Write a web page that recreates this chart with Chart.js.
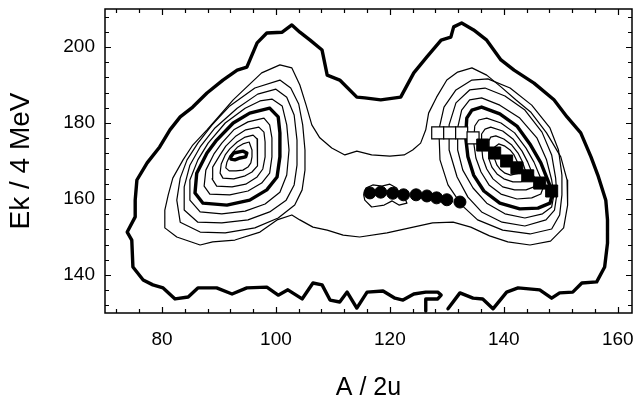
<!DOCTYPE html>
<html><head><meta charset="utf-8">
<script src="https://cdn.jsdelivr.net/npm/chart.js@4.4.1/dist/chart.umd.min.js"></script>
<style>html,body{margin:0;padding:0;background:#fff;}canvas{display:block;}</style>
</head><body>
<canvas id="c" width="634" height="403"></canvas>
<script>
// ---- axis tick labels ----
const xLabelTicks = [80, 100, 120, 140, 160];
const yLabelTicks = [140, 160, 180, 200];

// ---- contour lines, [A, Ek] pairs ----
const outerContour = [[130.2,131.1],[132.3,135.3],[134.6,133.9],[136.3,133.7],[138.1,131.1],[140.5,135.5],[142.5,136.6],[146.3,136.1],[148.4,133.9],[149.8,135.3],[152.1,135.5],[153.7,137.9],[156.3,138.2],[157.7,142.1],[158.2,148.4],[158.2,154.5],[157.9,159.7],[157.5,161.6],[156.5,166.3],[155.3,171.1],[153.5,177.4],[151.1,181.6],[148.8,186.1],[145.3,190.5],[141.8,193.9],[139.5,196.6],[137.0,201.8],[134.7,204.5],[132.6,206.3],[131.2,205.3],[130.7,202.6],[129.0,201.8],[126.5,197.4],[124.2,193.2],[121.9,186.8],[118.4,186.1],[115.6,186.6],[114.2,186.8],[111.2,191.3],[109.0,192.6],[108.1,199.2],[106.0,201.8],[104.2,203.9],[102.8,205.8],[101.1,203.9],[98.4,203.7],[96.7,201.1],[94.9,194.7],[93.2,193.9],[90.7,191.3],[87.9,187.9],[85.4,184.2],[83.2,181.6],[81.4,178.2],[79.6,173.7],[77.4,169.5],[75.6,165.0],[75.3,159.7],[75.3,155.3],[73.9,151.3],[74.7,149.2],[74.9,142.1],[76.7,138.7],[78.4,137.4],[80.2,136.6],[82.3,133.7],[84.6,134.2],[86.3,136.6],[89.6,136.6],[92.3,135.0],[94.9,136.6],[98.4,136.8],[100.4,134.7],[102.1,136.1],[104.6,133.7],[106.5,137.9],[108.1,137.4],[109.5,133.4],[111.2,132.9],[112.5,135.5],[114.2,131.3],[116.0,135.5],[118.8,135.8],[120.9,133.9],[122.3,133.4],[124.2,135.0],[126.3,135.5],[128.4,135.5],[129.0,134.7],[128.4,133.7],[126.3,133.7],[126.3,130.5]];

const contour2 = [[100.7,195.3],[102.8,194.5],[104.2,190.0],[105.3,184.7],[106.3,179.5],[107.7,176.1],[109.8,173.4],[112.1,171.6],[114.2,172.6],[116.8,171.6],[120.0,171.3],[122.5,171.6],[124.0,172.9],[125.4,174.7],[126.3,178.2],[126.8,182.6],[128.2,186.8],[130.0,191.3],[131.9,193.4],[134.4,194.5],[137.0,192.6],[139.5,189.5],[142.1,186.1],[144.7,182.9],[147.5,177.4],[150.0,171.1],[151.1,165.0],[151.2,158.4],[150.5,152.4],[148.2,148.9],[144.6,147.9],[140.7,148.7],[137.5,150.3],[134.2,152.6],[131.1,153.9],[127.5,153.7],[123.5,152.4],[119.5,151.1],[114.7,150.0],[111.8,150.5],[109.0,151.8],[106.5,152.6],[104.2,154.5],[102.8,155.8],[100.2,154.5],[97.2,151.3],[92.8,149.2],[88.9,148.7],[86.7,147.9],[82.6,150.0],[80.5,152.4],[80.5,157.1],[81.1,161.1],[81.9,165.5],[83.7,170.3],[85.4,174.2],[87.9,178.2],[90.2,182.1],[92.5,186.1],[94.9,189.5],[97.5,193.2],[100.7,195.3]];

const leftRing3 = [[100.7,191.3],[102.6,189.2],[104.0,185.0],[104.7,179.5],[105.1,172.9],[105.1,167.6],[104.6,162.4],[103.3,158.4],[100.4,155.0],[96.3,152.4],[91.1,151.1],[86.7,151.3],[83.2,153.9],[82.6,159.7],[83.2,165.5],[84.4,170.3],[86.3,174.7],[88.8,179.5],[91.9,184.5],[96.3,189.2],[100.7,191.3]];
const leftRing4 = [[100.0,188.9],[101.9,186.8],[103.2,182.1],[103.7,175.5],[103.7,168.9],[103.2,163.7],[101.8,159.7],[98.9,156.6],[95.1,154.5],[90.5,153.7],[86.3,153.9],[83.9,157.1],[83.9,163.2],[84.9,168.9],[86.7,173.7],[89.3,178.7],[93.2,183.9],[96.8,187.6],[100.0,188.9]];
const leftRing5 = [[99.3,186.3],[101.1,184.5],[101.9,179.5],[102.3,172.9],[101.9,166.3],[100.7,161.8],[98.1,158.7],[94.6,156.8],[90.5,156.1],[86.7,156.6],[84.9,159.7],[84.9,165.0],[86.3,170.3],[88.1,174.7],[91.1,180.0],[94.6,183.9],[97.2,185.8],[99.3,186.3]];
const leftRing6 = [[98.9,183.9],[100.4,181.6],[100.7,177.4],[100.7,171.1],[100.2,165.8],[98.4,162.4],[95.4,159.7],[91.4,158.4],[87.2,158.9],[85.8,161.6],[86.1,166.8],[87.9,172.1],[89.6,175.5],[92.5,180.0],[95.4,182.6],[98.9,183.9]];
const leftRing7 = [[97.9,181.3],[98.9,179.5],[99.3,176.1],[99.3,171.1],[98.9,166.8],[97.5,164.2],[95.1,162.1],[91.9,161.1],[88.4,161.3],[87.4,163.4],[87.7,167.6],[89.1,171.8],[90.5,174.7],[92.6,178.2],[95.1,180.3],[97.9,181.3]];
const leftRing8 = [[97.0,178.9],[97.9,177.6],[98.1,175.0],[98.1,171.1],[97.7,167.9],[96.7,165.8],[94.7,163.9],[92.3,163.2],[89.6,163.4],[88.8,165.3],[88.9,168.4],[90.2,171.6],[91.2,173.9],[93.0,176.6],[94.7,178.2],[97.0,178.9]];
const leftRing9 = [[96.0,176.8],[96.7,175.8],[96.8,173.9],[96.8,171.1],[96.7,168.7],[95.8,167.1],[94.6,166.1],[92.6,165.3],[90.7,165.5],[90.2,166.8],[90.4,169.2],[91.1,171.6],[91.9,173.2],[93.2,175.0],[94.6,176.3],[96.0,176.8]];
const leftRing10 = [[95.3,175.0],[95.8,172.9],[95.8,171.1],[95.6,169.5],[95.1,168.4],[94.2,167.6],[93.0,167.4],[91.8,167.4],[91.2,168.2],[91.4,169.7],[91.9,171.3],[92.5,172.4],[93.3,173.7],[94.2,174.5],[95.3,175.0]];
const leftPeak = [[92.1,171.1],[92.6,172.1],[94.2,172.6],[94.9,172.1],[94.7,171.1],[93.7,170.8],[92.8,170.3],[92.1,170.5],[92.1,171.1]];

const rightRing3 = [[134.4,191.3],[137.2,191.6],[141.1,189.2],[144.9,184.7],[148.1,178.7],[149.6,172.9],[150.2,166.3],[150.2,161.1],[149.8,155.8],[148.4,152.1],[144.6,150.8],[139.8,151.8],[135.4,154.5],[132.6,158.4],[130.2,163.7],[128.8,170.3],[128.6,178.2],[129.5,184.2],[131.6,188.7],[134.4,191.3]];
const rightRing4 = [[134.0,188.7],[136.7,189.2],[140.2,187.1],[143.7,183.4],[146.7,177.6],[148.4,171.6],[149.1,165.5],[149.3,161.1],[148.9,157.1],[147.4,154.5],[143.7,152.9],[139.7,153.9],[136.1,156.6],[133.7,160.5],[131.8,165.8],[130.4,172.9],[130.4,179.5],[131.6,185.3],[134.0,188.7]];
const rightRing5 = [[134.0,186.1],[136.1,186.6],[139.3,184.7],[142.8,181.3],[145.8,176.1],[147.5,170.3],[148.4,165.0],[148.8,161.1],[148.4,157.9],[146.8,156.1],[143.7,155.0],[140.2,156.1],[137.0,158.9],[134.6,162.9],[132.8,167.6],[131.9,172.9],[131.9,178.7],[132.6,183.4],[134.0,186.1]];
const rightRing6 = [[133.5,181.3],[134.4,183.4],[136.1,184.2],[139.3,182.4],[142.3,179.2],[144.7,174.2],[146.5,169.5],[147.7,165.0],[148.6,161.6],[148.1,158.9],[146.0,157.6],[142.8,157.4],[139.3,158.9],[136.5,162.1],[134.7,166.3],[133.7,171.1],[133.3,176.3],[133.5,181.3]];
const rightRing7 = [[134.9,179.2],[135.6,180.8],[137.0,181.3],[139.5,180.0],[141.9,177.4],[143.9,173.4],[145.3,169.7],[146.3,166.1],[147.0,163.4],[146.5,161.3],[144.9,160.3],[142.3,160.0],[139.5,161.3],[137.4,163.7],[136.0,167.1],[135.1,170.8],[134.7,175.0],[134.9,179.2]];
const rightRing8 = [[136.1,177.1],[136.7,178.4],[137.7,178.9],[139.8,177.9],[141.6,175.8],[143.2,172.6],[144.2,169.7],[144.9,167.1],[145.6,165.0],[145.3,163.2],[143.9,162.4],[141.9,162.4],[139.8,163.2],[138.1,165.3],[137.0,167.9],[136.3,170.8],[136.1,173.9],[136.1,177.1]];
const rightRing9 = [[137.4,175.3],[137.7,176.3],[138.6,176.6],[140.0,175.8],[141.4,174.2],[142.5,172.1],[143.2,170.0],[143.7,167.9],[144.2,166.3],[143.9,165.3],[143.0,164.5],[141.6,164.5],[140.0,165.3],[138.8,166.6],[137.9,168.4],[137.4,170.5],[137.4,172.9],[137.4,175.3]];
const rightRing10 = [[138.4,173.7],[139.1,174.5],[140.2,173.9],[141.1,172.9],[141.8,171.6],[142.3,170.0],[142.6,168.7],[143.0,167.6],[142.8,166.8],[142.1,166.6],[141.2,166.3],[140.2,166.8],[139.3,167.9],[138.8,168.9],[138.4,170.5],[138.4,172.1],[138.4,173.7]];
const midLoop = [[115.4,161.1],[115.8,162.9],[117.0,163.7],[118.6,163.4],[120.0,163.9],[121.2,162.9],[121.8,161.3],[122.6,160.3],[123.0,158.9],[121.6,158.4],[120.4,159.5],[119.0,158.4],[116.8,157.9],[115.6,159.7],[115.4,161.1]];

// ---- marker series ----
const circleA  = [116.5, 118.4, 120.5, 122.4, 124.6, 126.5, 128.2, 130.0, 132.3];
const circleEk = [161.6, 161.8, 161.5, 161.1, 161.1, 160.8, 160.3, 159.8, 159.2];
const openSqA  = [128.4, 130.5, 132.6, 134.6];
const openSqEk = [177.4, 177.4, 177.4, 176.1];
const fillSqA  = [136.3, 138.4, 140.5, 142.3, 144.2, 146.3, 148.4];
const fillSqEk = [174.2, 172.1, 170.0, 168.2, 166.1, 164.2, 162.1];

const thick = [outerContour, leftRing6, leftPeak, rightRing6];
const thin = [contour2, leftRing3, leftRing4, leftRing5, leftRing7, leftRing8, leftRing9, leftRing10,
              rightRing3, rightRing4, rightRing5, rightRing7, rightRing8, rightRing9, rightRing10, midLoop];

const toXY = arr => arr.map(p => ({x: p[0], y: p[1]}));
const zip = (a, b) => a.map((v, i) => ({x: v, y: b[i]}));
const lineDs = (arr, w) => ({data: toXY(arr), showLine: true, borderColor: '#000', borderWidth: w,
  pointRadius: 0, tension: 0, fill: false, order: 10, borderJoinStyle: 'round', borderCapStyle: 'round'});

const datasets = [
  {data: zip(fillSqA, fillSqEk), pointStyle: 'rect', pointRadius: 8.5, backgroundColor: '#000', borderColor: '#000', borderWidth: 1, order: 1},
  {data: zip(openSqA, openSqEk), pointStyle: 'rect', pointRadius: 8.5, backgroundColor: '#fff', borderColor: '#000', borderWidth: 1.2, order: 2},
  {data: zip(circleA, circleEk), pointStyle: 'circle', pointRadius: 6, backgroundColor: '#000', borderColor: '#000', borderWidth: 1, order: 3},
  ...thick.map(a => lineDs(a, 3.4)),
  ...thin.map(a => lineDs(a, 1.2))
];

const everyFour = s => { const t = []; for (let v = Math.ceil(s.min / 4) * 4; v <= s.max; v += 4) t.push({value: v}); s.ticks = t; };

const frameTicks = {
  id: 'frameTicks',
  afterDatasetsDraw(chart) {
    const {ctx, chartArea: a, scales: {x, y}} = chart;
    ctx.save();
    ctx.strokeStyle = '#000';
    ctx.lineWidth = 1.5;
    ctx.strokeRect(a.left, a.top, a.right - a.left, a.bottom - a.top);
    ctx.lineWidth = 1.2;
    ctx.beginPath();
    x.ticks.forEach(t => {
      const p = Math.round(x.getPixelForValue(t.value)) + 0.5;
      const L = xLabelTicks.includes(t.value) ? 6 : 4;
      ctx.moveTo(p, a.bottom); ctx.lineTo(p, a.bottom - L);
      ctx.moveTo(p, a.top); ctx.lineTo(p, a.top + L);
    });
    y.ticks.forEach(t => {
      const p = Math.round(y.getPixelForValue(t.value)) + 0.5;
      const L = yLabelTicks.includes(t.value) ? 6 : 4;
      ctx.moveTo(a.left, p); ctx.lineTo(a.left + L, p);
      ctx.moveTo(a.right, p); ctx.lineTo(a.right - L, p);
    });
    ctx.stroke();
    ctx.restore();
  }
};

const tickFont = {family: "'Liberation Sans', Arial, sans-serif", size: 19};
new Chart(document.getElementById('c'), {
  type: 'scatter',
  data: {datasets},
  options: {
    responsive: false, animation: false, devicePixelRatio: 1,
    layout: {autoPadding: false, padding: {top: 9, right: 2, left: 0, bottom: 0}},
    plugins: {legend: {display: false}, tooltip: {enabled: false}},
    scales: {
      x: {
        type: 'linear', min: 70, max: 162.5,
        grid: {display: false, drawTicks: false}, border: {display: false},
        afterBuildTicks: everyFour,
        afterFit: s => { s.height = 90; s.paddingLeft = 0; s.paddingRight = 0; },
        ticks: {autoSkip: false, maxRotation: 0, padding: 15, color: '#000', font: tickFont,
          callback: v => xLabelTicks.includes(v) ? String(v) : ''},
        title: {display: true, text: 'A / 2u', color: '#000', padding: {top: 0, bottom: 0},
          font: {family: "'Liberation Sans', Arial, sans-serif", size: 25}}
      },
      y: {
        type: 'linear', min: 130, max: 210,
        grid: {display: false, drawTicks: false}, border: {display: false},
        afterBuildTicks: everyFour,
        afterFit: s => { s.width = 105; s.paddingTop = 0; s.paddingBottom = 0; },
        ticks: {autoSkip: false, padding: 10, color: '#000', font: tickFont,
          callback: v => yLabelTicks.includes(v) ? String(v) : ''},
        title: {display: true, text: 'Ek / 4 MeV', color: '#000', padding: {top: 4, bottom: 0},
          font: {family: "'Liberation Sans', Arial, sans-serif", size: 28}}
      }
    }
  },
  plugins: [frameTicks]
});
</script>
</body></html>
